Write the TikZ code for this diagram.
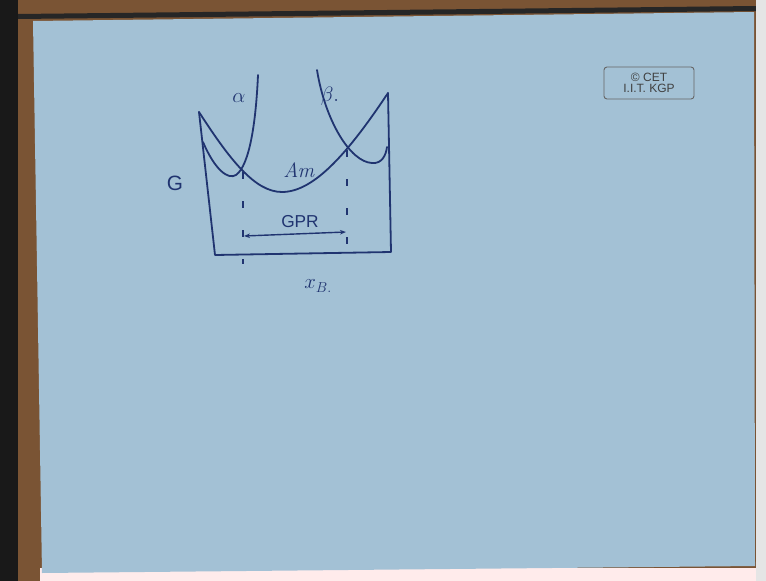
\documentclass[tikz,border=0pt]{standalone}
\usepackage{fontspec}
\newfontfamily\labelfont{Liberation Sans}
\usetikzlibrary{arrows.meta, positioning}
\definecolor{board}{RGB}{163,193,213}
\definecolor{ink}{RGB}{32,52,112}
\definecolor{frame}{RGB}{122,84,52}
\begin{document}
\begin{tikzpicture}[x=1pt, y=-1pt,
        ink line/.style={draw=ink, line width=1.8pt, line cap=round, line join=round},
        hand/.style={text=ink, font=\huge},
        guide/.style={draw=ink, line width=1.2pt, dash pattern=on 7pt off 22pt},
        stamp/.style={draw=black!60, rounded corners=3pt, font=\labelfont\large, text=black!75, align=center, inner sep=2pt, minimum width=90pt, minimum height=32pt, line width=0.9pt}
    ]
        % background: frame and board
        \fill[black!90] (0,0) rectangle (766,581);
        \fill[frame] (18,0) rectangle (756,581);
        \fill[black!85] (18,14) -- (756,6) -- (756,11) -- (18,19) -- cycle;
        \fill[black!10] (756,0) rectangle (766,581);
        \fill[red!8!white] (40,568) rectangle (756,581);
        \fill[board] (33,21) -- (754,12) -- (755,566) -- (42,573) -- cycle;
        \useasboundingbox (0,0) rectangle (766,581);

        % box walls
        \coordinate (tl) at (199,112);
        \coordinate (bl) at (215,255);
        \coordinate (br) at (391,252);
        \coordinate (tr) at (388,93);
        \draw[ink line] (tl) -- (bl) -- (br) -- (tr);

        % free energy curves
        \draw[ink line] (tl) .. controls (230,160) and (255,192) .. (282,192)
            .. controls (315,192) and (350,150) .. (tr);
        \draw[ink line] (203,142) .. controls (215,170) and (228,180) .. (236,175)
            .. controls (250,165) and (256,120) .. (258,75);
        \draw[ink line] (317,70) .. controls (325,120) and (350,162) .. (372,163)
            .. controls (382,164) and (386,155) .. (387,147);

        % tangent points and GPR
        \coordinate (pa) at (243,172);
        \coordinate (pb) at (347,150);
        \draw[guide] (pa) -- (243,264);
        \draw[guide] (pb) -- (347,256);
        \coordinate (ga) at (244,236);
        \coordinate (gb) at (346,232);
        \draw[ink line, line width=1.4pt, {Stealth[length=6pt]}-{Stealth[length=6pt]}] (ga) -- (gb);

        % labels
        \node[hand] (alpha) at (239,98) {$\alpha$};
        \node[hand] (beta) at (330,96) {$\beta.$};
        \node[hand] (am) at (299,170) {\textit{Am}};
        \node[hand] (gpr) at (300,222) {\labelfont\LARGE GPR};
        \node[hand] (g) at (175,183) {\labelfont G};
        \node[hand] (xb) at (318,286) {$x_{B.}$};
        \node[stamp] (cet) at (649,83) {\textcopyright\ CET\\[-3pt]I.I.T. KGP};
    \end{tikzpicture}
\end{document}
